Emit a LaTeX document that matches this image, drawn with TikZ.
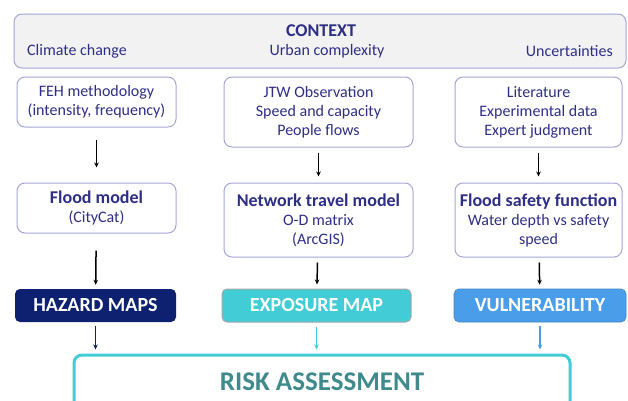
\documentclass[tikz,border=0pt]{standalone}
\usepackage{fontspec}
\setmainfont{Carlito}
\usetikzlibrary{arrows.meta}
\definecolor{txtblue}{HTML}{2E2E85}
\definecolor{boxline}{HTML}{A4A4D6}
\definecolor{ctxfill}{HTML}{F2F2F2}
\definecolor{hazfill}{HTML}{0D2170}
\definecolor{expfill}{HTML}{41CCD6}
\definecolor{vulfill}{HTML}{4A9DE8}
\definecolor{risktxt}{HTML}{3F8A8C}
\tikzset{
	font=\fontsize{16pt}{19pt}\selectfont,
	inbox/.style={draw=boxline, line width=1pt, rounded corners=8pt, align=center,
		text=txtblue, inner sep=2pt},
	outbox/.style={rounded corners=5pt, align=center, text=white,
		font=\fontsize{20pt}{22pt}\selectfont\bfseries, minimum height=33pt},
	flow/.style={-{Stealth[length=5pt,width=4.5pt]}, line width=1.5pt}
}
\newcommand{\boxhead}[1]{{\fontsize{18pt}{19pt}\selectfont\bfseries #1}}

\begin{document}
\begin{tikzpicture}[x=1pt, y=-1pt]
	\useasboundingbox (0,0) rectangle (628,400);
	\clip (0,0) rectangle (628,400);
	% context
	\node[inbox, fill=ctxfill, minimum width=612pt, minimum height=54pt] (ctx) at (320,41) {};
	\node[text=txtblue, font=\fontsize{18pt}{20pt}\selectfont\bfseries] (ctxt) at (321,31) {CONTEXT};
	\node[text=txtblue, anchor=west, inner sep=0pt] (clim) at (27,51) {Climate change};
	\node[text=txtblue, inner sep=0pt] (urb) at (327,51) {Urban complexity};
	\node[text=txtblue, anchor=east, inner sep=0pt] (unc) at (613,51) {Uncertainties};

	% inputs
	\node[inbox, minimum width=159pt, minimum height=50pt] (feh) at (96.5,102) {FEH methodology\\(intensity, frequency)};
	\node[inbox, minimum width=189pt, minimum height=70pt] (jtw) at (318.5,112) {JTW Observation\\Speed and capacity\\People flows};
	\node[inbox, minimum width=167pt, minimum height=70pt] (lit) at (538.5,112) {Literature\\Experimental data\\Expert judgment};

	% models
	\node[inbox, minimum width=159pt, minimum height=50pt] (flood) at (96.5,208)
		{\boxhead{Flood model}\\(CityCat)};
	\node[inbox, minimum width=189pt, minimum height=74pt] (net) at (318.5,220)
		{\boxhead{Network travel model}\\O-D matrix\\(ArcGIS)};
	\node[inbox, minimum width=167pt, minimum height=74pt] (safe) at (538.5,220)
		{\boxhead{Flood safety function}\\Water depth vs safety\\speed};

	% outputs
	\node[outbox, fill=hazfill, minimum width=161pt] (haz) at (95.5,305.5) {HAZARD MAPS};
	\node[outbox, fill=expfill, draw=gray!70, line width=1pt, minimum width=189pt] (expo) at (316.5,305.5) {EXPOSURE MAP};
	\node[outbox, fill=vulfill, draw=vulfill!85!black, line width=0.6pt, minimum width=172pt] (vul) at (540,305.5) {VULNERABILITY};

	\node[draw=expfill, line width=3pt, rounded corners=8pt, minimum width=496pt, minimum height=54pt,
		text=risktxt, font=\fontsize{27pt}{30pt}\selectfont\bfseries] (risk) at (322,382) {RISK ASSESSMENT};
	\coordinate (rhaz) at (haz |- risk.north);
	\coordinate (rexp) at (expo |- risk.north);
	\coordinate (rvul) at (vul |- risk.north);

	\draw[flow, shorten <=12pt, shorten >=15pt] (feh) -- (flood);
	\draw[flow, shorten <=5pt, shorten >=6pt] (jtw) -- (net);
	\draw[flow, shorten <=5pt, shorten >=6pt] (lit) -- (safe);

	\draw[flow, shorten <=17pt, shorten >=4pt] (flood) -- (haz);
	\draw[flow, shorten <=5pt, shorten >=4pt] (net) -- (expo);
	\draw[flow, shorten <=5pt, shorten >=4pt] (safe) -- (vul);

	\draw[flow, hazfill, line width=1.2pt, shorten <=4pt, shorten >=4pt] (haz) -- (rhaz);
	\draw[flow, expfill, line width=1.2pt, shorten <=4pt, shorten >=4pt] (expo) -- (rexp);
	\draw[flow, vulfill, line width=1.2pt, shorten <=4pt, shorten >=4pt] (vul) -- (rvul);
\end{tikzpicture}
\end{document}
